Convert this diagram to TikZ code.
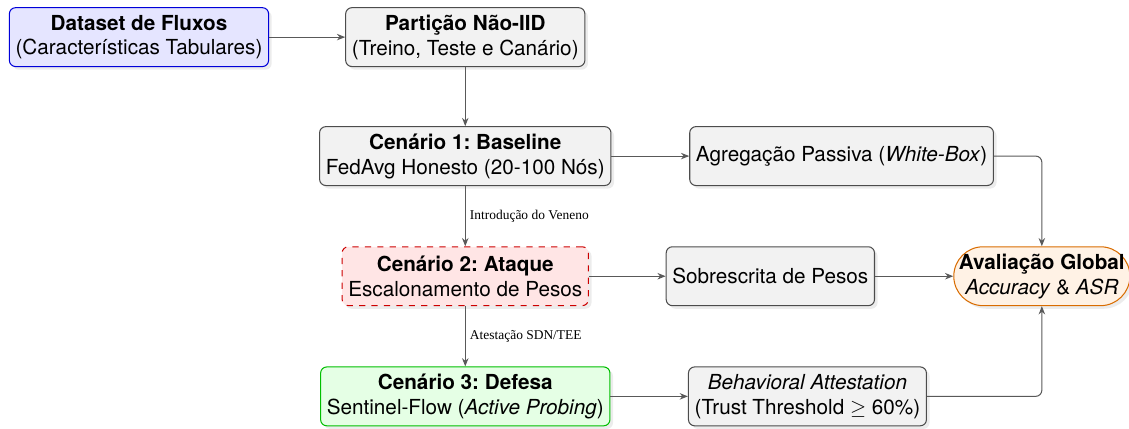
\documentclass[tikz,border=0pt]{standalone}
\usepackage{fontspec}
\setmainfont{Liberation Serif}
\setsansfont{TeX Gyre Heros}
\usepackage{amsmath}
\usepackage{tikz}
\usetikzlibrary{arrows.meta, positioning, shadows}
\frenchspacing
\tikzset{
  box/.style={draw=black!70, rounded corners=3pt, align=center, font=\sffamily\normalsize, inner sep=3pt,
    minimum height=1cm, fill=gray!10, line width=0.5pt,
    drop shadow={opacity=0.15, shadow xshift=1.5pt, shadow yshift=-1.5pt}},
  srcbox/.style={box, draw=blue!85!black, fill=blue!10},
  atkbox/.style={box, draw=red!80!black, fill=red!10, dashed},
  defbox/.style={box, draw=green!75!black, fill=green!10},
  evalbox/.style={box, draw=orange!85!black, fill=orange!10, rounded corners=0.5cm, inner sep=2.5pt},
  arr/.style={-{Stealth[length=1.4mm, width=1.1mm]}, draw=black!65, line width=0.5pt},
  lbl/.style={font=\fontsize{6.5}{8}\selectfont, right, inner sep=2pt},
}

\begin{document}
\begin{tikzpicture}
  \useasboundingbox (0,0) rectangle (19.17,-7.27);
  \node[srcbox] (data) at (2.36,-0.63) {\textbf{Dataset de Fluxos}\\(Características Tabulares)};
  \node[box] (part) at (7.90,-0.63) {\textbf{Partição Não-IID}\\(Treino, Teste e Canário)};
  \node[box] (cen1) at (7.90,-2.65) {\textbf{Cenário 1: Baseline}\\FedAvg Honesto (20-100 Nós)};
  \node[box] (agr) at (14.29,-2.65) {Agregação Passiva (\textit{White-Box})};
  \node[atkbox] (cen2) at (7.90,-4.69) {\textbf{Cenário 2: Ataque}\\Escalonamento de Pesos};
  \node[box] (sob) at (13.08,-4.69) {Sobrescrita de Pesos};
  \node[evalbox] (aval) at (17.69,-4.69) {\textbf{Avaliação Global}\\\textit{Accuracy} \& \textit{ASR}};
  \node[defbox] (cen3) at (7.90,-6.73) {\textbf{Cenário 3: Defesa}\\Sentinel-Flow (\textit{Active Probing})};
  \node[box] (beh) at (13.71,-6.73) {\textit{Behavioral Attestation}\\(Trust Threshold $\geq$ 60\%)};

  \draw[arr] (data) -- (part);
  \draw[arr] (part) -- (cen1);
  \draw[arr] (cen1) -- (agr);
  \draw[arr, rounded corners=3pt] (agr.east) -| (aval.north);
  \draw[arr] (cen1) -- node[lbl] {Introdução do Veneno} (cen2);
  \draw[arr] (cen2) -- (sob);
  \draw[arr] (sob) -- (aval);
  \draw[arr] (cen2) -- node[lbl] {Atestação SDN/TEE} (cen3);
  \draw[arr] (cen3) -- (beh);
  \draw[arr, rounded corners=3pt] (beh.east) -| (aval.south);
\end{tikzpicture}
\end{document}
